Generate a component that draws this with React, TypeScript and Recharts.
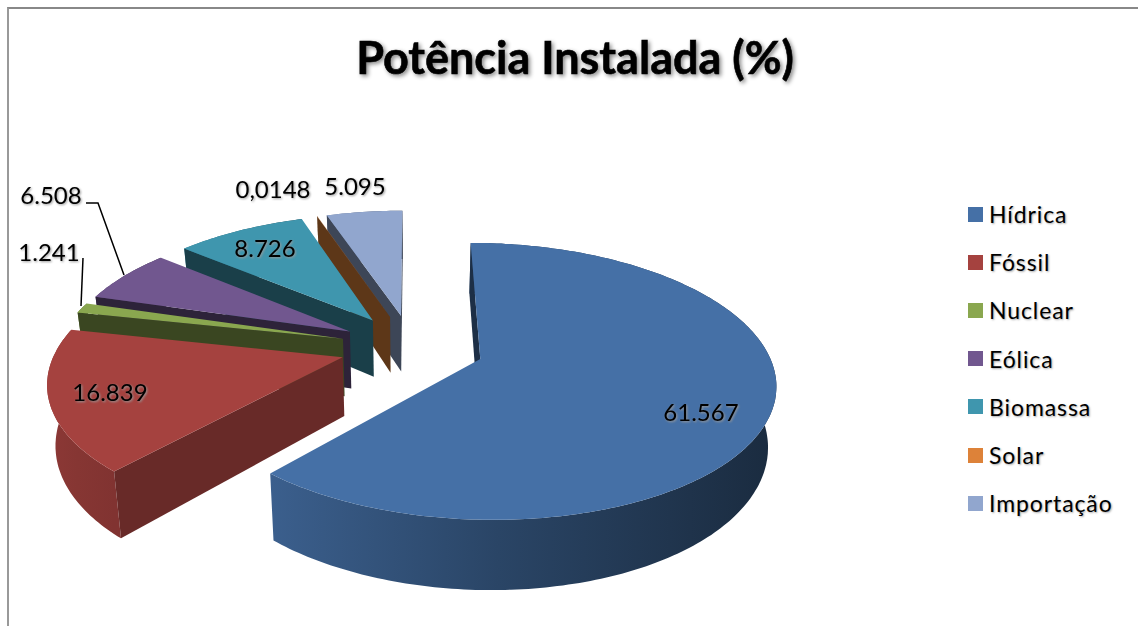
import { PieChart, Pie, Legend } from "recharts"

const categories = ["Hídrica", "Fóssil", "Nuclear", "Eólica", "Biomassa", "Solar", "Importação"]
const values = [61.567, 16.839, 1.241, 6.508, 8.726, 0.0148, 5.095]
const valueLabels = ["61.567", "16.839", "1.241", "6.508", "8.726", "0,0148", "5.095"]
const colors = ["#4570a6", "#a5423f", "#8aa74f", "#71578f", "#3f96ae", "#dd8239", "#91a6ce"]
// how dark the cut faces and the far end of the rim get, per slice
const cutShades = [0.42, 0.63, 0.42, 0.4, 0.42, 0.42, 0.42]
const rimEndShades = [0.38, 0.78, 0.42, 0.42, 0.42, 0.42, 0.42]

// where each value label sits, by category index
const labelSpots = [
  [701, 411],
  [110, 391],
  [49, 251],
  [51, 194],
  [265, 247],
  [273, 188],
  [355, 185],
]
const leaderLines: Record<number, string> = {
  2: "83,258 81,306",
  3: "86,203 98,203 124,275",
}

// 3D look of the old spreadsheet pie
const RADIUS = 286
const EXPLODE = 72
const TILT = 0.458
const PERSPECTIVE = 0.16
const DEPTH = 58
const SQUEEZE = 0.977
const FONT = "Lato, sans-serif"

// painted back to front, so the front slices cover the walls behind them
const rows = categories
  .map((name, i) => ({ name, value: values[i], fill: colors[i], idx: i }))
  .reverse()

function shade(hex: string, f: number) {
  const n = parseInt(hex.slice(1), 16)
  const c = [(n >> 16) & 255, (n >> 8) & 255, n & 255].map((v) => Math.round(v * f))
  return `rgb(${c[0]},${c[1]},${c[2]})`
}

function SliceShape(props: any) {
  const { cx, cy, outerRadius, startAngle, endAngle, fill, idx } = props
  const toRad = Math.PI / 180
  const mid = ((startAngle + endAngle) / 2) * toRad
  const au = EXPLODE * Math.cos(mid)
  const av = -EXPLODE * Math.sin(mid)

  const top = (u: number, v: number) => {
    const w = 1 - (PERSPECTIVE * v) / RADIUS
    return [cx + u / w, cy + (TILT * v) / w, w]
  }
  const low = (u: number, v: number) => {
    const [x, y, w] = top(u, v)
    return [cx + (x - cx) * SQUEEZE, y + DEPTH / w]
  }

  const steps = Math.max(2, Math.ceil(Math.abs(endAngle - startAngle)))
  const rim: number[][] = []
  for (let i = 0; i <= steps; i++) {
    const a = (startAngle + ((endAngle - startAngle) * i) / steps) * toRad
    rim.push([au + outerRadius * Math.cos(a), av - outerRadius * Math.sin(a)])
  }
  const path = (pts: number[][]) => "M" + pts.map((p) => `${p[0].toFixed(1)},${p[1].toFixed(1)}`).join("L") + "Z"

  const topRim = rim.map((p) => top(p[0], p[1]))
  const lowRim = rim.map((p) => low(p[0], p[1]))
  const apexTop = top(au, av)
  const apexLow = low(au, av)
  const xs = topRim.map((p) => p[0])
  const gradId = `wall-${idx}`
  const cutColor = shade(fill, cutShades[idx])

  // a cut face only shows when going down from its edge leaves the top face
  const inner = top(au + 40 * Math.cos(mid), av - 40 * Math.sin(mid))
  const showsCut = (corner: number[]) => {
    const ex = corner[0] - apexTop[0]
    const ey = corner[1] - apexTop[1]
    const sideInner = ex * (inner[1] - apexTop[1]) - ey * (inner[0] - apexTop[0])
    return sideInner * ex < 0
  }
  const cuts = [0, steps].filter((i) => showsCut(topRim[i]))

  return (
    <g>
      <defs>
        <linearGradient id={gradId} gradientUnits="userSpaceOnUse" x1={Math.min(...xs)} x2={Math.max(...xs)} y1={0} y2={0}>
          <stop offset="0" stopColor={shade(fill, 0.85)} />
          <stop offset="0.45" stopColor={shade(fill, (0.85 + rimEndShades[idx]) / 2)} />
          <stop offset="1" stopColor={shade(fill, rimEndShades[idx])} />
        </linearGradient>
      </defs>
      <path d={path([...topRim, ...[...lowRim].reverse()])} fill={`url(#${gradId})`} />
      {cuts.map((i) => (
        <path key={i} d={path([apexTop, topRim[i], lowRim[i], apexLow])} fill={cutColor} />
      ))}
      <path d={path([apexTop, ...topRim])} fill={fill} />
    </g>
  )
}

function ValueLabel(props: any) {
  const i = props.idx ?? props.payload?.idx
  const [x, y] = labelSpots[i]
  return (
    <g>
      {leaderLines[i] && <polyline points={leaderLines[i]} fill="none" stroke="#000" strokeWidth={1.5} />}
      <text
        x={x}
        y={y}
        textAnchor="middle"
        dominantBaseline="central"
        fontFamily={FONT}
        fontSize={24}
        fill="#000"
        style={{ filter: "drop-shadow(1px 1px 1px #999)" }}
      >
        {valueLabels[i]}
      </text>
    </g>
  )
}

function LegendList({ payload }: any) {
  const items = [...(payload || [])].sort((a, b) => categories.indexOf(a.value) - categories.indexOf(b.value))
  return (
    <div>
      {items.map((it: any) => (
        <div key={it.value} style={{ display: "flex", alignItems: "center", height: 48.2 }}>
          <span style={{ width: 15, height: 15, background: it.color, marginRight: 6, display: "inline-block" }} />
          <span style={{ fontFamily: FONT, fontSize: 23, color: "#000", letterSpacing: 0.9, textShadow: "1px 1px 2px #aaa" }}>
            {it.value}
          </span>
        </div>
      ))}
    </div>
  )
}

export default function App() {
  return (
    <div style={{ position: "absolute", left: 0, top: 0, width: 1138, height: 626, background: "#fff" }}>
      <div style={{ position: "absolute", left: 7, top: 7, width: 1131, height: 619, borderLeft: "2px solid #999", borderTop: "2px solid #888", boxSizing: "border-box" }} />
      <PieChart width={1138} height={626} margin={{ top: 0, right: 0, bottom: 0, left: 0 }} style={{ position: "absolute", left: 0, top: 0 }}>
        <text
          x={575}
          y={74}
          textAnchor="middle"
          fontFamily={FONT}
          fontWeight={700}
          fontSize={45}
          fill="#000"
          stroke="#000"
          strokeWidth={0.6}
          style={{ filter: "drop-shadow(2px 2px 2px #888)" }}
        >
          Potência Instalada (%)
        </text>
        <Pie
          data={rows}
          dataKey="value"
          nameKey="name"
          cx={412}
          cy={347}
          outerRadius={RADIUS}
          startAngle={90}
          endAngle={450}
          stroke="none"
          shape={SliceShape}
          label={ValueLabel}
          labelLine={false}
          isAnimationActive={false}
        />
        <Legend
          layout="vertical"
          content={<LegendList />}
          wrapperStyle={{ position: "absolute", left: 968, top: 190, width: 170 }}
        />
      </PieChart>
    </div>
  )
}
